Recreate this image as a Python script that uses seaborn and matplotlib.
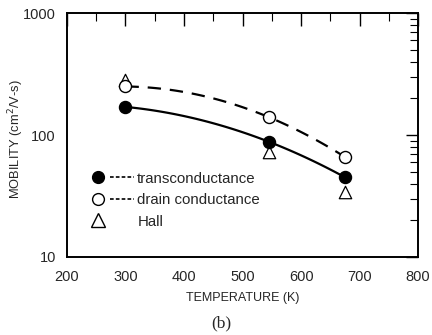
import numpy as np
import pandas as pd
import seaborn as sns
import matplotlib
matplotlib.use("Agg")
import matplotlib.pyplot as plt
from matplotlib.lines import Line2D
from matplotlib.legend_handler import HandlerBase
from matplotlib.ticker import MultipleLocator, LogLocator, NullFormatter, FixedLocator

# Mobility vs temperature
temperature = [300, 545, 675]
mu_transconductance = [170, 88, 45]
mu_drain = [250, 140, 66]
mu_hall = [285, 73, 34]
series_labels = ["transconductance", "drain conductance", "Hall"]

sns.set_theme(style="white")
plt.rcParams['font.family'] = ['Liberation Sans', 'DejaVu Sans']

fig = plt.figure(figsize=(4.32, 3.35), dpi=100)
ax = fig.add_axes([0.155, 0.233, 0.813, 0.728])

# smooth curves: quadratic fit in log space through the measured points
t_fine = np.linspace(temperature[0], temperature[-1], 100)
def fit_curve(y):
    c = np.polyfit(temperature, np.log10(y), 2)
    return 10 ** np.polyval(c, t_fine)

trans_curve = pd.DataFrame({"T": t_fine, "mu": fit_curve(mu_transconductance)})
drain_curve = pd.DataFrame({"T": t_fine, "mu": fit_curve(mu_drain)})
sns.lineplot(data=trans_curve, x="T", y="mu", color="black", lw=1.6, ax=ax,
             legend=False)
sns.lineplot(data=drain_curve, x="T", y="mu", color="black", lw=1.6, ax=ax,
             legend=False, linestyle=(0, (6, 4)))

pts = pd.DataFrame({"T": temperature, "trans": mu_transconductance,
                    "drain": mu_drain, "hall": mu_hall})
sns.scatterplot(data=pts, x="T", y="hall", marker="^", s=80, facecolor="white",
                edgecolor="black", linewidth=0.9, ax=ax, zorder=3)
sns.scatterplot(data=pts, x="T", y="drain", marker="o", s=75, facecolor="white",
                edgecolor="black", linewidth=1.0, ax=ax, zorder=4)
sns.scatterplot(data=pts, x="T", y="trans", marker="o", s=75, facecolor="black",
                edgecolor="black", linewidth=1.0, ax=ax, zorder=5)

ax.set_yscale("log")
ax.set_xlim(200, 800)
ax.set_ylim(10, 1000)
ax.xaxis.set_major_locator(MultipleLocator(100))
ax.xaxis.set_minor_locator(MultipleLocator(50))
ax.yaxis.set_major_locator(FixedLocator([10, 100, 1000]))
ax.yaxis.set_minor_locator(LogLocator(base=10, subs=np.arange(2, 10)))
ax.yaxis.set_minor_formatter(NullFormatter())
ax.set_yticklabels(["10", "100", "1000"])

ax.tick_params(which="both", direction="in", top=True, right=True, color="black",
               labelsize=10.5)
ax.tick_params(axis="x", which="both", pad=9.5)
ax.tick_params(axis="y", which="both", pad=8)
ax.tick_params(which="major", length=9, width=1.0)
ax.tick_params(which="minor", length=5.5, width=0.8)
for s in ax.spines.values():
    s.set_color("black")
    s.set_linewidth(1.4)

ax.set_xlabel("TEMPERATURE (K)", fontsize=9, labelpad=6)
ax.set_ylabel("MOBILITY (cm$^2$/V-s)", fontsize=9.3)
ax.yaxis.set_label_coords(-0.117, 0.485)


class MarkerThenDashes(HandlerBase):
    """Legend key: marker at the left, followed by a short dashed line."""
    def create_artists(self, legend, orig_handle, xdescent, ydescent, width,
                       height, fontsize, trans):
        y = height / 2 - ydescent
        x0 = -xdescent + 5
        artists = []
        if orig_handle.get_linestyle() not in ("None", "none", ""):
            dash = Line2D([x0 + 8, width - xdescent], [y, y], color="black",
                          lw=1.2, linestyle=(0, (2.2, 1.3)), transform=trans)
            artists.append(dash)
        mk = Line2D([x0], [y], marker=orig_handle.get_marker(),
                    markersize=orig_handle.get_markersize(),
                    markerfacecolor=orig_handle.get_markerfacecolor(),
                    markeredgecolor="black", markeredgewidth=1.0,
                    linestyle="none", transform=trans)
        artists.append(mk)
        return artists


handles = [
    Line2D([], [], marker="o", markersize=8.5, markerfacecolor="black", linestyle="-"),
    Line2D([], [], marker="o", markersize=8.5, markerfacecolor="white", linestyle="-"),
    Line2D([], [], marker="^", markersize=10, markerfacecolor="white", linestyle="none"),
]
ax.legend(handles, series_labels, handler_map={Line2D: MarkerThenDashes()},
          loc="upper left", bbox_to_anchor=(0.07, 0.35), frameon=False,
          fontsize=10.8, handlelength=2.8, handletextpad=0.25, labelspacing=0.5,
          borderaxespad=0, borderpad=0)

fig.text(0.512, 0.022, "(b)", fontsize=12.5, family=["Liberation Serif", "DejaVu Serif"],
         ha="center", va="baseline")

fig.savefig("out.png", dpi=100)
